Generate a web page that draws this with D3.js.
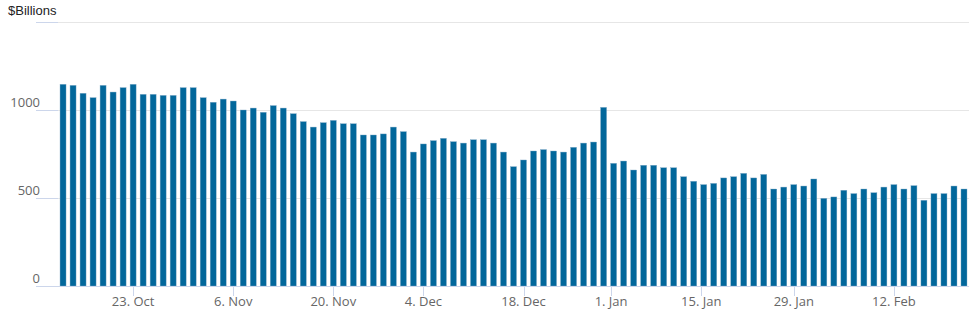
<!DOCTYPE html>
<html><head><meta charset="utf-8">
<script src="https://cdn.jsdelivr.net/npm/d3@7"></script>
<style>
html,body{margin:0;padding:0;background:#fff;}
svg{display:block;}
</style></head>
<body>
<script>
const dates = [
"2023-10-12","2023-10-13","2023-10-16","2023-10-17","2023-10-18","2023-10-19","2023-10-20","2023-10-23","2023-10-24","2023-10-25","2023-10-26","2023-10-27","2023-10-30","2023-10-31",
"2023-11-01","2023-11-02","2023-11-03","2023-11-06","2023-11-07","2023-11-08","2023-11-09","2023-11-10","2023-11-13","2023-11-14","2023-11-15","2023-11-16","2023-11-17","2023-11-20","2023-11-21","2023-11-22","2023-11-24","2023-11-27","2023-11-28","2023-11-29","2023-11-30",
"2023-12-01","2023-12-04","2023-12-05","2023-12-06","2023-12-07","2023-12-08","2023-12-11","2023-12-12","2023-12-13","2023-12-14","2023-12-15","2023-12-18","2023-12-19","2023-12-20","2023-12-21","2023-12-22","2023-12-26","2023-12-27","2023-12-28","2023-12-29",
"2024-01-02","2024-01-03","2024-01-04","2024-01-05","2024-01-08","2024-01-09","2024-01-10","2024-01-11","2024-01-12","2024-01-16","2024-01-17","2024-01-18","2024-01-19","2024-01-22","2024-01-23","2024-01-24","2024-01-25","2024-01-26","2024-01-29","2024-01-30","2024-01-31",
"2024-02-01","2024-02-02","2024-02-05","2024-02-06","2024-02-07","2024-02-08","2024-02-09","2024-02-12","2024-02-13","2024-02-14","2024-02-15","2024-02-16","2024-02-20","2024-02-21","2024-02-22"
];
const values = [
1146,1140,1095,1070,1140,1102,1127,1146,1089,1089,1083,1083,1127,1127,1070,1044,1062,1051,1000,1011,987,1025,1011,979,934,903,928,
941,922,922,858,858,864,903,877,761,807,826,839,820,812,831,831,812,761,678,716,767,775,767,761,788,812,818,1015,697,710,659,686,
686,672,672,621,595,576,583,614,621,640,614,634,551,562,576,568,608,498,506,544,525,551,530,562,576,551,570,487,525,525,568,551
];
const tickDates = ["2023-10-23","2023-11-06","2023-11-20","2023-12-04","2023-12-18","2024-01-01","2024-01-15","2024-01-29","2024-02-12"];
const tickLabels = ["23. Oct","6. Nov","20. Nov","4. Dec","18. Dec","1. Jan","15. Jan","29. Jan","12. Feb"];
const yTicks = [0,500,1000,1500];
const yLabelTicks = [0,500,1000];
const unitLabel = "$Billions";

const W = 980, H = 312;
const plotL = 36, plotR = 969, plotT = 22, plotB = 286;

const svg = d3.select("body").append("svg").attr("width", W).attr("height", H);

const parse = d3.utcParse("%Y-%m-%d");
const times = dates.map(d => parse(d).getTime());

// ordinal position of a date (interpolated between trading days)
function ordinal(t) {
  for (let i = 0; i < times.length; i++) {
    if (times[i] === t) return i;
    if (times[i] > t) {
      const a = times[i-1], b = times[i];
      return (i - 1) + (t - a) / (b - a);
    }
  }
  return times.length - 1;
}

const x = d3.scaleLinear().domain([-2.7, 90.5]).range([plotL, plotR]);
const y = d3.scaleLinear().domain([0, 1500]).range([plotB, plotT]);

// gridlines
svg.append("g").selectAll("line").data(yTicks).join("line")
  .attr("x1", plotL).attr("x2", plotR)
  .attr("y1", d => Math.round(y(d)) + 0.5).attr("y2", d => Math.round(y(d)) + 0.5)
  .attr("stroke", "#e6e6e6").attr("stroke-width", 1);
svg.append("g").selectAll("line").data(yTicks).join("line")
  .attr("x1", plotL).attr("x2", plotL + 22)
  .attr("y1", d => Math.round(y(d)) + 0.5).attr("y2", d => Math.round(y(d)) + 0.5)
  .attr("stroke", "#ccd6eb").attr("stroke-width", 1);

// y labels
svg.append("g").selectAll("text").data(yLabelTicks).join("text")
  .attr("x", 40).attr("y", d => y(d) - 3)
  .attr("text-anchor", "end")
  .attr("font-family", "'Open Sans', sans-serif").attr("font-size", 13)
  .attr("fill", "#666")
  .text(d => d);

// bars
svg.append("g").selectAll("rect").data(values).join("rect")
  .attr("x", (d, i) => x(i) - 3)
  .attr("width", 6)
  .attr("y", d => y(d))
  .attr("height", d => plotB - y(d))
  .attr("fill", "#02679b")
  .attr("stroke", "#7fa9c6").attr("stroke-width", 0.4);

// x axis line
svg.append("line").attr("x1", plotL).attr("x2", plotR)
  .attr("y1", plotB + 0.5).attr("y2", plotB + 0.5)
  .attr("stroke", "#ccd6eb").attr("stroke-width", 1);

// x ticks
const tickPos = tickDates.map(d => x(ordinal(parse(d).getTime())));
svg.append("g").selectAll("line").data(tickPos).join("line")
  .attr("x1", d => Math.round(d) + 0.5).attr("x2", d => Math.round(d) + 0.5)
  .attr("y1", plotB).attr("y2", plotB + 10)
  .attr("stroke", "#ccd6eb").attr("stroke-width", 1);
svg.append("g").selectAll("text").data(tickLabels).join("text")
  .attr("x", (d, i) => tickPos[i]).attr("y", 306)
  .attr("text-anchor", "middle")
  .attr("font-family", "'Open Sans', sans-serif").attr("font-size", 13)
  .attr("fill", "#666")
  .text(d => d);

// unit label
svg.append("text").attr("x", 8).attr("y", 15)
  .attr("font-family", "'Liberation Sans', Arial, sans-serif").attr("font-size", 13)
  .attr("fill", "#222")
  .text(unitLabel);
</script>
</body></html>
